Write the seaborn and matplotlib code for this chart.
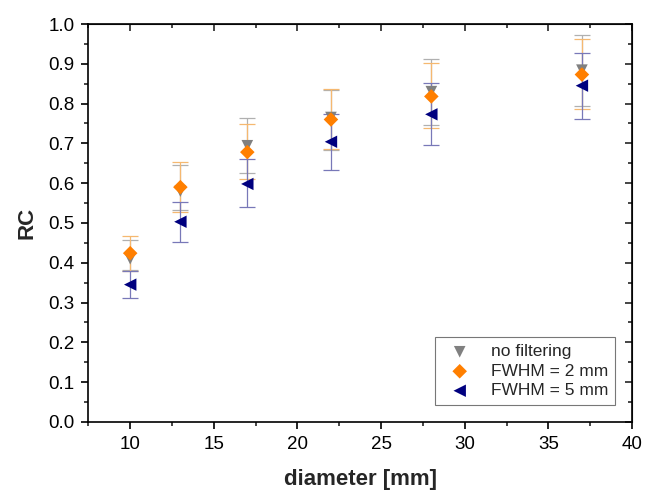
import matplotlib
matplotlib.use("Agg")
import matplotlib.pyplot as plt
from matplotlib.ticker import MultipleLocator
import pandas as pd
import seaborn as sns

diameter = [10, 13, 17, 22, 28, 37]
series = ["no filtering", "FWHM = 2 mm", "FWHM = 5 mm"]

rc_none = [0.410, 0.580, 0.694, 0.765, 0.830, 0.884]
rc_fwhm2 = [0.424, 0.590, 0.678, 0.760, 0.818, 0.873]
rc_fwhm5 = [0.345, 0.503, 0.598, 0.704, 0.773, 0.845]

lo_none = [0.382, 0.532, 0.625, 0.684, 0.745, 0.794]
hi_none = [0.457, 0.645, 0.763, 0.833, 0.911, 0.972]
lo_fwhm2 = [0.380, 0.528, 0.611, 0.686, 0.738, 0.787]
hi_fwhm2 = [0.468, 0.652, 0.748, 0.836, 0.901, 0.962]
lo_fwhm5 = [0.312, 0.452, 0.539, 0.634, 0.696, 0.761]
hi_fwhm5 = [0.380, 0.553, 0.660, 0.774, 0.851, 0.928]

colors = ["#808080", "#FF7F00", "#00007F"]
err_colors = ["#b0b0b0", "#f5b870", "#7878b8"]
markers = ["v", "D", "<"]
sizes = [70, 55, 80]

df = pd.DataFrame({
    "diameter": diameter * 3,
    "RC": rc_none + rc_fwhm2 + rc_fwhm5,
    "lo": lo_none + lo_fwhm2 + lo_fwhm5,
    "hi": hi_none + hi_fwhm2 + hi_fwhm5,
    "series": [s for s in series for _ in diameter],
})

sns.set_style("ticks")
plt.rcParams["font.family"] = ["Liberation Sans", "DejaVu Sans"]

fig, ax = plt.subplots(figsize=(6.45, 4.9), dpi=100)
fig.subplots_adjust(left=0.137, right=0.98, top=0.951, bottom=0.139)

for name, ec in zip(series, err_colors):
    d = df[df["series"] == name]
    ax.errorbar(d["diameter"], d["RC"],
                yerr=[d["RC"] - d["lo"], d["hi"] - d["RC"]],
                fmt="none", ecolor=ec, elinewidth=0.9, capsize=6,
                capthick=0.9, zorder=2)

for name, c, m, s in zip(series, colors, markers, sizes):
    d = df[df["series"] == name]
    sns.scatterplot(data=d, x="diameter", y="RC", marker=m, color=c,
                    s=s, edgecolor="none", label=name, ax=ax, zorder=3)

ax.set_xlim(7.5, 40)
ax.set_ylim(0, 1.0)
ax.xaxis.set_major_locator(MultipleLocator(5))
ax.xaxis.set_minor_locator(MultipleLocator(2.5))
ax.yaxis.set_major_locator(MultipleLocator(0.1))
ax.yaxis.set_minor_locator(MultipleLocator(0.05))
ax.yaxis.set_major_formatter(plt.FormatStrFormatter("%.1f"))

for side in ax.spines.values():
    side.set_visible(True)
    side.set_linewidth(1.2)
    side.set_color("black")

ax.tick_params(which="major", length=5, width=1.2, labelsize=13.5,
               colors="black", direction="out", pad=5)
ax.tick_params(which="minor", length=3, width=1.2, direction="out")

# mirrored ticks on top/right point inwards
secx = ax.secondary_xaxis("top")
secx.xaxis.set_major_locator(MultipleLocator(5))
secx.xaxis.set_minor_locator(MultipleLocator(2.5))
secx.tick_params(which="major", direction="in", length=5, width=1.2, labeltop=False)
secx.tick_params(which="minor", direction="in", length=3, width=1.2)
secy = ax.secondary_yaxis("right")
secy.yaxis.set_major_locator(MultipleLocator(0.1))
secy.yaxis.set_minor_locator(MultipleLocator(0.05))
secy.tick_params(which="major", direction="in", length=5, width=1.2, labelright=False)
secy.tick_params(which="minor", direction="in", length=3, width=1.2)
ax.tick_params(which="both", top=False, right=False)

ax.set_xlabel("diameter [mm]", fontsize=16, fontweight="bold", labelpad=12)
ax.set_ylabel("RC", fontsize=16, fontweight="bold", labelpad=8)

leg = ax.legend(loc="lower right", fontsize=12.5, frameon=True, fancybox=False,
                edgecolor="#555555", borderpad=0.4, handletextpad=0.8,
                labelspacing=0.25, bbox_to_anchor=(0.985, 0.02))
leg.get_frame().set_linewidth(0.8)

fig.savefig("out.png", dpi=100)
